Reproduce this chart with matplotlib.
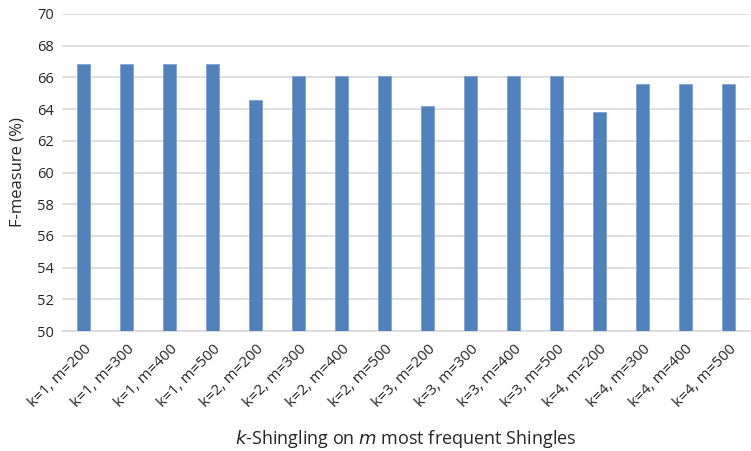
import matplotlib
matplotlib.use("Agg")
import matplotlib.pyplot as plt
import numpy as np

plt.rcParams['font.family'] = ['Open Sans', 'DejaVu Sans']

categories = [
    "k=1, m=200", "k=1, m=300", "k=1, m=400", "k=1, m=500",
    "k=2, m=200", "k=2, m=300", "k=2, m=400", "k=2, m=500",
    "k=3, m=200", "k=3, m=300", "k=3, m=400", "k=3, m=500",
    "k=4, m=200", "k=4, m=300", "k=4, m=400", "k=4, m=500",
]
f_measure = [
    66.84, 66.84, 66.84, 66.84,
    64.59, 66.08, 66.08, 66.08,
    64.17, 66.08, 66.08, 66.08,
    63.79, 65.58, 65.58, 65.58,
]
y_ticks = list(range(50, 71, 2))

fig = plt.figure(figsize=(7.51, 4.51), dpi=100)
ax = fig.add_axes([0.0826, 0.266, 0.916, 0.703])

x = np.arange(len(categories))
ax.bar(x, np.array(f_measure) - 50, bottom=50, width=0.3, color="#4f81bd",
       edgecolor="#7da2d1", linewidth=0.6, zorder=3)

ax.set_xlim(-0.5, len(categories) - 0.5)
ax.set_ylim(50, 70)
ax.set_yticks(y_ticks)
ax.yaxis.grid(True, color="#d9d9d9", linewidth=1.2, zorder=0)
ax.set_axisbelow(True)

for s in ["top", "right", "left"]:
    ax.spines[s].set_visible(False)
ax.spines["bottom"].set_color("#d9d9d9")
ax.spines["bottom"].set_linewidth(1.2)

ax.tick_params(axis="both", length=0, colors="#262626")
ax.tick_params(axis="y", labelsize=10.5, pad=6)
ax.set_xticks(x)
ax.set_xticklabels(categories, rotation=45, ha="right", rotation_mode="anchor")
ax.tick_params(axis="x", labelsize=11, pad=8)

ax.set_ylabel("F-measure (%)", fontsize=12, color="#262626", labelpad=8)
ax.set_xlabel("$\\it{k}$-Shingling on $\\it{m}$ most frequent Shingles",
              fontsize=13, color="#262626", labelpad=12)

fig.savefig("out.png", dpi=100)
